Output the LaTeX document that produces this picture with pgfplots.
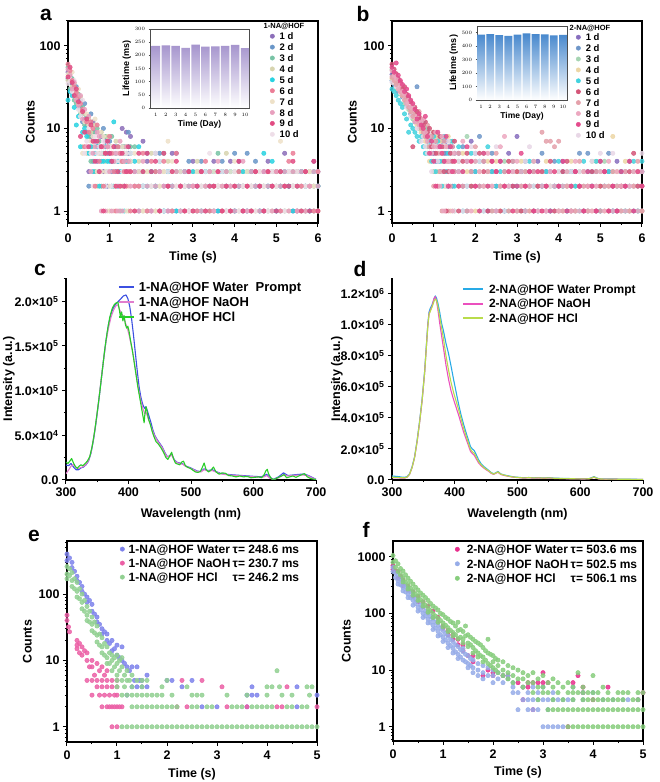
\documentclass[border=0pt]{standalone}
\usepackage{pgfplots}
\usepackage{pgfplotstable}
\pgfplotsset{compat=1.18}
\usepackage{fontspec}
\setmainfont{Liberation Sans}
\newcommand\fs[1]{\fontsize{#1}{#1}\selectfont\bfseries}

\definecolor{ca1}{RGB}{140,110,185}
\definecolor{ca2}{RGB}{105,150,200}
\definecolor{ca3}{RGB}{120,195,165}
\definecolor{ca4}{RGB}{215,212,175}
\definecolor{ca5}{RGB}{40,210,225}
\definecolor{ca6}{RGB}{235,125,150}
\definecolor{ca7}{RGB}{238,225,200}
\definecolor{ca8}{RGB}{232,160,190}
\definecolor{ca9}{RGB}{225,75,130}
\definecolor{ca10}{RGB}{238,222,232}
\definecolor{cb1}{RGB}{135,110,190}
\definecolor{cb2}{RGB}{110,150,200}
\definecolor{cb3}{RGB}{165,212,178}
\definecolor{cb4}{RGB}{236,214,165}
\definecolor{cb5}{RGB}{65,210,222}
\definecolor{cb6}{RGB}{212,85,120}
\definecolor{cb7}{RGB}{228,160,170}
\definecolor{cb8}{RGB}{236,168,192}
\definecolor{cb9}{RGB}{228,75,140}
\definecolor{cb10}{RGB}{232,215,230}
\definecolor{barA}{RGB}{165,148,205}
\definecolor{barB}{RGB}{70,135,205}
\definecolor{cB}{RGB}{60,80,225}
\definecolor{cP}{RGB}{225,125,205}
\definecolor{cG}{RGB}{40,205,40}
\definecolor{dB}{RGB}{40,170,230}
\definecolor{dP}{RGB}{235,80,190}
\definecolor{dG}{RGB}{185,220,75}
\definecolor{eB}{RGB}{125,130,235}
\definecolor{eP}{RGB}{235,95,165}
\definecolor{eG}{RGB}{145,208,145}
\definecolor{fP}{RGB}{232,45,140}
\definecolor{fB}{RGB}{150,172,232}
\definecolor{fG}{RGB}{135,205,125}

% panel a: counts per day, one column per day
\pgfplotstableread{
t d1 d2 d3 d4 d5 d6 d7 d8 d9 d10
0.00 48 40 55 38 22 60 45 52 42 35
0.05 42 36 30 46 28 50 38 44 55 40
0.10 35 30 40 32 25 38 48 30 36 28
0.15 30 26 22 35 18 32 28 36 25 38
0.20 25 32 20 28 11 27 24 22 30 26
0.25 22 18 26 20 14 24 30 19 21 17
0.30 18 22 15 24 6 20 16 25 8 14
0.35 15 12 18 6 9 17 5 13 16 22
0.40 13 20 11 15 10 6 12 17 9 5
0.45 11 9 14 5 8 12 15 6 13 7
0.50 3 2 8 13 5 9 11 14 6 10
0.55 8 15 4 9 6 12 7 3 11 5
0.60 12 4 9 6 3 10 8 5 7 2
0.65 7 9 3 11 5 2 13 6 4 8
0.70 4 6 10 2 6 11 3 9 7 5
0.75 6 3 7 5 2 4 9 8 3 6
0.80 8 5 2 9 4 6 3 1 6 5
0.85 3 10 5 6 4 2 8 6 1 7
0.90 7 2 8 4 6 5 3 1 5 2
0.95 2 5 3 8 4 6 1 6 7 3
1.00 5 7 6 1 4 8 2 3 5 6
1.05 4 3 8 6 2 5 6 1 4 2
1.10 6 4 2 5 12 3 1 4 6 5
1.15 3 6 4 7 5 1 2 5 2 4
1.20 4 2 6 3 4 6 5 1 3 5
1.25 5 4 1 4 3 5 2 7 2 4
1.30 10 6 4 2 3 4 6 1 5 3
1.35 2 5 6 4 1 3 5 4 2 3
1.40 9 3 5 6 4 2 1 6 3 5
1.45 5 9 4 1 6 3 2 4 6 3
1.50 8 4 6 3 5 1 4 2 3 5
1.6 2 3 6 1 4 2 5 3 1 2
1.7 3 1 2 4 6 2 3 1 5 2
1.8 7 2 3 1 2 5 1 4 3 2
1.9 4 5 1 3 2 1 3 2 5 1
2.0 1 3 2 5 3 4 2 1 3 2
2.1 2 5 3 1 2 3 1 2 4 5
2.2 3 5 1 2 4 1 2 3 1 4
2.3 2 1 5 3 1 4 3 2 5 1
2.4 1 3 2 4 3 2 7 1 2 3
2.5 5 2 1 3 2 1 4 2 3 1
2.6 5 1 3 2 1 5 2 3 4 2
2.7 2 3 1 2 1 2 3 1 2 1
2.8 3 2 2 1 3 1 2 3 1 2
2.9 1 4 3 2 2 3 1 2 3 1
3.0 4 2 1 3 3 2 1 2 1 2
3.1 2 1 3 4 2 1 3 2 2 1
3.2 3 4 2 1 1 3 2 1 3 2
3.3 1 2 3 2 3 4 1 2 1 3
3.4 2 3 1 3 2 1 2 3 2 5
3.5 4 1 2 1 3 2 3 1 2 1
3.6 1 2 5 2 1 3 2 4 3 2
3.7 3 4 2 1 3 1 2 2 1 3
3.8 2 1 3 5 2 2 1 3 2 1
3.9 4 2 1 2 3 1 3 2 1 2
4.0 1 5 2 3 1 2 4 1 2 3
4.1 4 2 3 1 2 3 1 2 4 1
4.2 2 1 2 3 3 1 2 4 1 2
4.3 1 5 3 2 1 2 3 1 2 1
4.4 3 2 1 2 3 1 2 3 1 2
4.5 2 4 3 1 2 3 1 2 3 1
4.6 1 2 2 3 1 2 3 1 2 3
4.7 3 1 2 2 5 1 2 3 1 2
4.8 4 2 1 3 2 3 1 2 3 1
4.9 2 3 2 1 4 2 3 1 2 3
5.0 1 2 3 2 1 3 2 3 1 2
5.1 3 1 2 3 2 1 7 2 3 1
5.2 5 2 1 2 3 2 1 3 2 1
5.3 2 3 2 1 2 4 3 1 2 3
5.4 1 2 3 2 1 5 2 3 4 2
5.5 3 1 2 3 2 1 2 1 2 3
5.6 2 3 1 2 3 2 1 3 1 2
5.7 1 2 3 1 2 3 2 1 3 2
5.8 3 1 2 3 1 2 3 2 1 2
5.9 4 2 1 2 3 1 2 3 4 1
6.0 2 3 2 1 2 3 1 2 1 3
}\tabA

% panel b
\pgfplotstableread{
t d1 d2 d3 d4 d5 d6 d7 d8 d9 d10
0.00 45 38 52 40 30 60 42 50 55 36
0.05 40 34 45 36 28 52 38 44 48 42
0.10 36 42 30 38 25 46 34 40 62 32
0.15 32 28 38 30 22 40 36 30 44 35
0.20 30 35 26 32 20 36 28 34 38 27
0.25 26 24 32 25 18 30 25 28 34 30
0.30 24 28 20 26 15 32 22 26 28 23
0.35 21 19 25 22 13 26 24 20 30 18
0.40 19 23 17 20 9 24 18 22 25 20
0.45 17 15 20 16 11 21 16 18 22 14
0.50 15 18 13 17 10 6 14 19 20 16
0.55 14 12 16 13 9 18 15 12 17 14
0.60 12 32 14 11 8 16 12 14 13 10
0.65 11 13 10 12 7 14 16 11 15 12
0.70 10 11 12 9 8 13 10 12 11 7
0.75 9 12 8 10 6 11 9 13 10 8
0.80 8 9 10 7 5 12 8 9 14 6
0.85 7 10 6 8 5 9 11 7 8 5
0.90 6 8 9 4 7 10 6 8 5 9
0.95 8 5 7 9 4 6 8 5 7 3
1.00 5 7 3 6 8 9 2 6 4 7
1.05 7 4 6 8 3 5 7 9 2 6
1.10 4 6 8 3 7 2 5 6 9 4
1.15 6 3 5 7 4 8 3 2 6 5
1.20 3 7 4 5 2 6 1 8 5 3
1.25 5 4 6 2 8 3 7 1 4 6
1.30 7 5 2 6 3 1 4 6 8 2
1.35 2 6 4 8 5 3 1 4 2 7
1.40 4 3 7 1 6 5 2 3 6 4
1.45 6 2 5 3 7 4 6 1 3 5
1.50 3 5 1 4 2 7 3 5 4 1
1.6 5 3 4 2 6 1 5 3 2 4
1.7 2 6 3 5 1 4 2 7 3 1
1.8 4 1 8 3 2 5 1 4 6 2
1.9 7 3 2 4 5 2 3 1 4 6
2.0 3 5 4 1 3 2 6 4 2 5
2.1 2 8 1 3 4 5 2 3 1 4
2.2 4 2 5 2 1 3 4 2 5 1
2.3 1 3 2 4 6 1 3 5 2 3
2.4 3 5 1 2 3 4 1 2 4 2
2.5 2 1 3 4 2 3 5 1 3 6
2.6 4 2 2 1 3 1 2 6 4 2
2.7 1 3 4 2 1 2 3 8 2 1
2.8 5 2 1 3 2 4 1 2 3 2
2.9 2 4 3 1 3 2 4 3 1 3
3.0 8 1 2 3 2 3 1 4 2 1
3.1 3 2 1 4 3 1 2 3 5 2
3.2 1 4 3 2 1 2 3 1 2 4
3.3 2 3 2 1 4 3 1 2 3 6
3.4 3 1 4 2 2 1 3 4 1 2
3.5 4 2 1 3 1 2 2 1 3 1
3.6 2 5 3 1 2 3 9 2 1 3
3.7 1 3 2 4 3 2 7 1 2 1
3.8 3 1 2 2 1 4 7 3 1 2
3.9 2 4 1 3 2 1 6 2 3 1
4.0 1 2 3 1 4 2 7 1 2 3
4.1 4 3 2 1 2 3 1 2 4 1
4.2 2 1 3 2 1 4 2 3 1 2
4.3 3 2 1 4 3 1 2 1 2 3
4.4 1 3 2 1 2 3 1 4 3 1
4.5 2 5 3 2 1 2 4 1 2 3
4.6 3 1 2 3 4 1 2 3 1 2
4.7 1 5 1 2 3 2 1 2 3 1
4.8 2 3 4 1 2 3 2 1 2 4
4.9 3 1 2 4 4 1 3 2 1 2
5.0 1 4 3 2 1 2 1 3 4 5
5.1 2 3 4 1 2 3 2 1 3 2
5.2 3 5 1 2 3 1 2 4 1 2
5.3 1 2 3 8 1 2 3 1 2 5
5.4 4 1 2 3 2 1 2 3 1 2
5.5 2 3 1 2 3 2 1 2 3 1
5.6 3 2 1 4 1 2 3 1 2 3
5.7 1 4 2 1 2 3 1 2 4 2
5.8 2 1 3 2 4 5 2 3 1 2
5.9 3 2 1 3 1 2 4 1 3 2
6.0 1 3 2 1 4 2 1 3 2 5
}\tabB

\pgfplotsset{
  panel/.style={scale only axis, anchor=south west,
    axis line style={line width=1.2pt},
    tick style={line width=1pt, black},
    major tick length=4pt, minor tick length=2.2pt,
    tick align=outside, tick pos=left,
    tick label style={font=\fs{12.5}}, label style={font=\fs{12.5}},
    legend cell align=left},
  dot/.style={only marks, mark=*, color=#1, mark size=2.2pt,
    mark options={draw=none, fill=#1, fill opacity=0.85}},
  inset/.style={scale only axis, anchor=south west, ybar, ymin=0,
    axis background/.style={fill=white},
    axis line style={line width=0.7pt, black!70},
    tick style={line width=0.5pt, black!70},
    major tick length=1.5pt, tick align=outside, tick pos=left,
    tick label style={font=\fs{5}}, xtick={1,...,10},
    xlabel style={font=\fs{8.5}, yshift=3pt}, ylabel style={font=\fs{9}, yshift=-3pt}},
  countleg/.style={legend style={at={#1}, anchor=north west, draw=none, fill=none,
    inner sep=0pt, font=\fs{9.5}, row sep=3.9pt, column sep=5pt,
    nodes={inner sep=0pt, text height=7pt, text depth=0pt, anchor=base west}},
    legend image code/.code={\fill[##1] (2.2pt,3.5pt) circle[radius=2.2pt];}},
}

\begin{document}
\begin{tikzpicture}
\useasboundingbox (0,0) rectangle (660pt,782pt);

% ---------- a ----------
\begin{axis}[panel, at={(68pt,559pt)}, width=250pt, height=202pt,
  ymode=log, xmin=0, xmax=6, ymin=0.716, ymax=200,
  xtick={0,...,6}, xticklabels={0,1,2,3,4,5,6}, minor xtick={0.5,1.5,...,5.5},
  ytick={1,10,100}, yticklabels={1,10,100},
  minor ytick={0.8,0.9,2,3,4,5,6,7,8,9,20,30,40,50,60,70,80,90,200},
  x tick label style={yshift=-3pt}, xlabel shift=2pt, ylabel shift=-2pt,
  xlabel={Time (s)}, ylabel={Counts}, countleg={(0.807,0.943)}]
\addlegendimage{dot=ca1}\addlegendentry{1 d}
\addlegendimage{dot=ca2}\addlegendentry{2 d}
\addlegendimage{dot=ca3}\addlegendentry{3 d}
\addlegendimage{dot=ca4}\addlegendentry{4 d}
\addlegendimage{dot=ca5}\addlegendentry{5 d}
\addlegendimage{dot=ca6}\addlegendentry{6 d}
\addlegendimage{dot=ca7}\addlegendentry{7 d}
\addlegendimage{dot=ca8}\addlegendentry{8 d}
\addlegendimage{dot=ca9}\addlegendentry{9 d}
\addlegendimage{dot=ca10}\addlegendentry{10 d}
\addplot[dot=ca1, forget plot] table[x=t, y=d1] {\tabA};
\addplot[dot=ca2, forget plot] table[x=t, y=d2] {\tabA};
\addplot[dot=ca3, forget plot] table[x=t, y=d3] {\tabA};
\addplot[dot=ca4, forget plot] table[x=t, y=d4] {\tabA};
\addplot[dot=ca5, forget plot] table[x=t, y=d5] {\tabA};
\addplot[dot=ca7, forget plot] table[x=t, y=d7] {\tabA};
\addplot[dot=ca10, forget plot] table[x=t, y=d10] {\tabA};
\addplot[dot=ca6, forget plot] table[x=t, y=d6] {\tabA};
\addplot[dot=ca8, forget plot] table[x=t, y=d8] {\tabA};
\addplot[dot=ca9, forget plot] table[x=t, y=d9] {\tabA};
\end{axis}
\node[font=\fs{7.5}] at (284pt,756pt) {1-NA@HOF};

\begin{axis}[inset, at={(150pt,674pt)}, width=99pt, height=79pt,
  xmin=0.4, xmax=10.4, ymax=300, ytick={0,50,...,300}, bar width=0.86,
  xlabel={Time (Day)}, ylabel={Lifetime (ms)}]
\addplot[draw=none, top color=barA, middle color=barA!55!white, bottom color=white]
  coordinates {(1,236)(2,238)(3,236)(4,228)(5,241)(6,233)(7,234)(8,236)(9,240)(10,227)};
\end{axis}

% ---------- b ----------
\begin{axis}[panel, at={(392pt,559pt)}, width=250pt, height=202pt,
  ymode=log, xmin=0, xmax=6, ymin=0.716, ymax=200,
  xtick={0,...,6}, xticklabels={0,1,2,3,4,5,6}, minor xtick={0.5,1.5,...,5.5},
  ytick={1,10,100}, yticklabels={1,10,100},
  minor ytick={0.8,0.9,2,3,4,5,6,7,8,9,20,30,40,50,60,70,80,90,200},
  x tick label style={yshift=-3pt}, xlabel shift=2pt,
  xlabel={Time (s)}, ylabel={Counts}, countleg={(0.735,0.938)}]
\addlegendimage{dot=cb1}\addlegendentry{1 d}
\addlegendimage{dot=cb2}\addlegendentry{2 d}
\addlegendimage{dot=cb3}\addlegendentry{3 d}
\addlegendimage{dot=cb4}\addlegendentry{4 d}
\addlegendimage{dot=cb5}\addlegendentry{5 d}
\addlegendimage{dot=cb6}\addlegendentry{6 d}
\addlegendimage{dot=cb7}\addlegendentry{7 d}
\addlegendimage{dot=cb8}\addlegendentry{8 d}
\addlegendimage{dot=cb9}\addlegendentry{9 d}
\addlegendimage{dot=cb10}\addlegendentry{10 d}
\addplot[dot=cb1, forget plot] table[x=t, y=d1] {\tabB};
\addplot[dot=cb2, forget plot] table[x=t, y=d2] {\tabB};
\addplot[dot=cb3, forget plot] table[x=t, y=d3] {\tabB};
\addplot[dot=cb4, forget plot] table[x=t, y=d4] {\tabB};
\addplot[dot=cb5, forget plot] table[x=t, y=d5] {\tabB};
\addplot[dot=cb10, forget plot] table[x=t, y=d10] {\tabB};
\addplot[dot=cb7, forget plot] table[x=t, y=d7] {\tabB};
\addplot[dot=cb6, forget plot] table[x=t, y=d6] {\tabB};
\addplot[dot=cb8, forget plot] table[x=t, y=d8] {\tabB};
\addplot[dot=cb9, forget plot] table[x=t, y=d9] {\tabB};
\end{axis}
\node[font=\fs{7.5}] at (590pt,754pt) {2-NA@HOF};

\begin{axis}[inset, at={(477pt,682pt)}, width=90pt, height=74pt,
  xmin=0.55, xmax=10.45, ymax=550, ytick={0,100,...,500}, bar width=0.86,
  xlabel={Time (Day)}, ylabel={Lifetime (ms)}]
\addplot[draw=none, top color=barB, middle color=barB!55!white, bottom color=white]
  coordinates {(1,485)(2,490)(3,483)(4,476)(5,485)(6,495)(7,490)(8,488)(9,480)(10,484)};
\end{axis}

% ---------- c ----------
\begin{axis}[panel, at={(66pt,302pt)}, width=250pt, height=202pt,
  axis x line*=bottom, axis y line*=left, axis line style={line width=1.2pt, -},
  xmin=300, xmax=700, ymin=0, ymax=226000,
  xtick={300,400,500,600,700}, xticklabels={300,400,500,600,700}, minor xtick={350,450,550,650},
  ytick={0,50000,100000,150000,200000},
  yticklabels={0.0,5.0×10\textsuperscript{4},1.0×10\textsuperscript{5},1.5×10\textsuperscript{5},2.0×10\textsuperscript{5}},
  minor ytick={25000,75000,125000,175000,225000},
  scaled y ticks=false, xlabel shift=5pt, ylabel shift=-7pt,
  xlabel={Wavelength (nm)}, ylabel={Intensity (a.u.)},
  legend style={at={(0.208,0.979)}, anchor=north west, draw=none, fill=none,
    inner sep=0pt, font=\fs{13}, row sep=5.6pt, column sep=4pt,
    nodes={inner sep=0pt, text height=9.4pt, text depth=0pt, anchor=base west}},
  legend image code/.code={\draw[#1, line width=1.6pt] (0pt,4.7pt) -- (15pt,4.7pt);}]
\addplot[cB, line width=1.1pt, line join=round] coordinates {
(300,16800)(304,16000)(308,18500)(312,14500)(316,11500)(320,11500)(324,13500)(328,14500)(332,17000)(336,21000)(340,30000)(344,45000)(348,64000)(352,86000)(356,110000)(360,134000)(364,156000)(368,174000)(372,186000)(376,193000)(380,197000)(384,200000)(388,203000)(392,206000)(396,207000)(399,203000)(402,194000)(405,180000)(408,162000)(411,142000)(414,122000)(417,104000)(420,92000)(423,84000)(426,80000)(428,82000)(430,78000)(433,71000)(436,64000)(439,56000)(442,50000)(446,45000)(450,41000)(454,37000)(458,31000)(462,26000)(466,27000)(469,29000)(473,23000)(477,20000)(482,19000)(487,18000)(492,15500)(498,14000)(504,12000)(510,10000)(516,9500)(521,12500)(527,10500)(534,11500)(540,9500)(547,7500)(555,6500)(563,6000)(572,5500)(582,5000)(592,4500)(602,4000)(612,3700)(617,4500)(621,6500)(626,3000)(632,800)(640,3500)(648,8000)(655,5000)(663,5600)(671,6200)(680,6700)(688,5000)(695,2500)(700,800)};
\addlegendentry{1-NA@HOF Water\ \ Prompt}
\addplot[cP, line width=1.1pt, line join=round] coordinates {
(300,7000)(304,11000)(308,15500)(312,17500)(316,14000)(320,13000)(324,14000)(328,15000)(332,17500)(336,21500)(340,31000)(344,46000)(348,65000)(352,87000)(356,111000)(360,134000)(364,155000)(368,170000)(372,182000)(376,190000)(380,195000)(383,196000)(386,190000)(389,186000)(392,183000)(395,176000)(398,170000)(401,162000)(404,152000)(408,138000)(411,124000)(414,110000)(417,98000)(420,88000)(423,80000)(426,74000)(428,76000)(430,72000)(433,66000)(436,60000)(439,54000)(442,49000)(446,44000)(450,40000)(454,36000)(458,30000)(462,26000)(466,26500)(469,28000)(473,22500)(477,19500)(482,18500)(487,17500)(492,15000)(498,13500)(504,11500)(510,9500)(516,9000)(521,11500)(527,10000)(534,10500)(540,9000)(547,7000)(555,6000)(563,5500)(572,5000)(582,4500)(592,4000)(602,3500)(612,3000)(617,3500)(621,5000)(626,2000)(632,500)(640,2500)(648,6000)(655,4500)(663,5000)(671,5500)(680,5500)(688,4500)(695,2000)(700,500)};
\addlegendentry{1-NA@HOF NaOH}
\addplot[cG, line width=1.1pt, line join=round] coordinates {
(300,20000)(303,18500)(306,21000)(309,24000)(312,19000)(315,15000)(318,13000)(321,15500)(324,17000)(327,16000)(330,18000)(334,21000)(338,26000)(342,38000)(346,55000)(350,76000)(354,98000)(358,122000)(362,146000)(366,166000)(370,182000)(374,192000)(377,196000)(380,198000)(383,199000)(385,192000)(387,183000)(389,188000)(391,178000)(393,184000)(395,174000)(397,170000)(399,172000)(401,166000)(403,157000)(406,146000)(409,132000)(412,118000)(415,104000)(418,92000)(421,80000)(423,72000)(425,64000)(426,72000)(428,82000)(430,76000)(432,68000)(435,62000)(438,54000)(441,48000)(444,43000)(448,40000)(452,36000)(456,31000)(460,25000)(463,23000)(466,27000)(469,31000)(472,24000)(475,19000)(478,18000)(482,17000)(485,20000)(488,21000)(491,16000)(495,14000)(499,13000)(503,11000)(507,9000)(511,8500)(515,9500)(518,14000)(521,19000)(524,12000)(528,9000)(532,11000)(536,14500)(540,9000)(545,6500)(550,8000)(555,7500)(560,5000)(566,4500)(572,3500)(578,4500)(584,3500)(590,4000)(596,2500)(602,3000)(608,3500)(613,2500)(617,6000)(620,10500)(622,12000)(624,7000)(628,2000)(632,500)(636,1500)(640,3000)(645,4500)(649,6000)(653,2500)(658,3500)(663,4500)(668,3000)(674,5000)(679,6500)(682,7000)(686,3500)(692,1500)(700,500)};
\addlegendentry{1-NA@HOF HCl}
\end{axis}

% ---------- d ----------
\begin{axis}[panel, at={(392pt,302pt)}, width=251pt, height=202pt,
  axis x line*=bottom, axis y line*=left, axis line style={line width=1.2pt, -},
  xmin=300, xmax=700, ymin=0, ymax=1300000,
  xtick={300,400,500,600,700}, xticklabels={300,400,500,600,700}, minor xtick={350,450,550,650},
  ytick={0,200000,400000,600000,800000,1000000,1200000},
  yticklabels={0.0,2.0×10\textsuperscript{5},4.0×10\textsuperscript{5},6.0×10\textsuperscript{5},8.0×10\textsuperscript{5},1.0×10\textsuperscript{6},1.2×10\textsuperscript{6}},
  minor ytick={100000,300000,500000,700000,900000,1100000},
  scaled y ticks=false, xlabel shift=5pt, ylabel shift=-9pt,
  xlabel={Wavelength (nm)}, ylabel={Intensity (a.u.)},
  legend style={at={(0.279,0.967)}, anchor=north west, draw=none, fill=none,
    inner sep=0pt, font=\fs{12}, row sep=5.9pt, column sep=5pt,
    nodes={inner sep=0pt, text height=8.6pt, text depth=0pt, anchor=base west}},
  legend image code/.code={\draw[#1, line width=1.8pt] (0pt,4.3pt) -- (20pt,4.3pt);}]
\addplot[dB, line width=1.1pt, line join=round] coordinates {
(300,26000)(305,24000)(310,22000)(315,19000)(320,17000)(324,22000)(328,40000)(332,85000)(336,150000)(340,255000)(344,380000)(348,520000)(352,700000)(355,880000)(357,1000000)(359,1080000)(361,1105000)(364,1130000)(367,1165000)(369,1185000)(371,1170000)(373,1140000)(376,1080000)(379,1010000)(382,960000)(386,880000)(390,815000)(394,735000)(398,650000)(402,570000)(406,490000)(410,420000)(414,360000)(418,305000)(422,255000)(425,215000)(428,200000)(431,190000)(434,165000)(438,130000)(442,105000)(446,88000)(450,75000)(454,62000)(458,48000)(462,40000)(466,48000)(469,55000)(473,40000)(478,33000)(484,28000)(490,23000)(496,19000)(502,17000)(510,14000)(518,16000)(526,14000)(534,15000)(542,13000)(550,15000)(558,12000)(566,11000)(576,10000)(586,9000)(596,8500)(606,8000)(614,9000)(619,16000)(622,22000)(625,15000)(630,8000)(640,6500)(650,7000)(660,6000)(670,5500)(680,5000)(690,4500)(700,4300)};
\addlegendentry{2-NA@HOF Water Prompt}
\addplot[dP, line width=1.1pt, line join=round] coordinates {
(300,15000)(305,14000)(310,13500)(315,12500)(320,12000)(324,18000)(328,36000)(332,80000)(336,145000)(340,245000)(344,370000)(348,510000)(352,690000)(355,870000)(357,990000)(359,1070000)(361,1090000)(364,1120000)(367,1170000)(369,1180000)(371,1150000)(373,1100000)(376,1010000)(379,930000)(382,850000)(386,740000)(390,650000)(394,575000)(398,520000)(402,470000)(406,420000)(410,365000)(414,310000)(418,265000)(422,220000)(425,185000)(428,170000)(431,160000)(434,138000)(438,110000)(442,92000)(446,78000)(450,66000)(454,56000)(458,43000)(462,36000)(466,44000)(469,50000)(473,36000)(478,30000)(484,25000)(490,20000)(496,17000)(502,15000)(510,12000)(518,14000)(526,12000)(534,13000)(542,11000)(550,12500)(558,10000)(566,9000)(576,8500)(586,7500)(596,7000)(606,6500)(614,7500)(619,13000)(622,18000)(625,12000)(630,6000)(640,5000)(650,5500)(660,4500)(670,4000)(680,4000)(690,3500)(700,3000)};
\addlegendentry{2-NA@HOF NaOH}
\addplot[dG, line width=1.1pt, line join=round] coordinates {
(300,18000)(305,17000)(310,16000)(315,14500)(320,14000)(324,19000)(328,37000)(332,80000)(336,145000)(340,248000)(344,372000)(348,512000)(352,690000)(355,870000)(357,985000)(359,1065000)(361,1085000)(364,1115000)(367,1150000)(369,1165000)(371,1155000)(373,1120000)(376,1050000)(379,980000)(382,910000)(386,800000)(390,710000)(394,630000)(398,565000)(402,510000)(406,455000)(410,395000)(414,335000)(418,285000)(422,235000)(425,198000)(428,182000)(431,172000)(434,150000)(438,118000)(442,98000)(446,82000)(450,70000)(454,59000)(458,46000)(462,38000)(466,46000)(469,52000)(473,38000)(478,32000)(484,26000)(490,21000)(496,18000)(502,16000)(510,13000)(518,15000)(526,13000)(534,14000)(542,12000)(550,14000)(558,11000)(566,10000)(576,9000)(586,8000)(596,7500)(606,7000)(614,8000)(619,14000)(622,20000)(625,13000)(630,7000)(640,5500)(650,6000)(660,5000)(670,4500)(680,4500)(690,4000)(700,3500)};
\addlegendentry{2-NA@HOF HCl}
\end{axis}

% ---------- e ----------
\begin{axis}[panel, at={(67pt,40pt)}, width=250pt, height=201pt,
  ymode=log, xmin=0, xmax=5, ymin=0.59, ymax=630,
  xtick={0,...,5}, xticklabels={0,1,2,3,4,5}, minor xtick={0.5,1.5,...,4.5},
  ytick={1,10,100}, yticklabels={1,10,100},
  minor ytick={0.6,0.7,0.8,0.9,2,3,4,5,6,7,8,9,20,30,40,50,60,70,80,90,200,300,400,500,600},
  x tick label style={yshift=-1pt}, xlabel shift=2pt,
  xlabel={Time (s)}, ylabel={Counts},
  legend style={at={(0.211,0.982)}, anchor=north west, draw=none, fill=none,
    inner sep=0pt, font=\fs{12}, row sep=5.4pt, column sep=4pt,
    nodes={inner sep=0pt, text height=8.6pt, text depth=0pt, anchor=base west}},
  legend image code/.code={\fill[#1] (2.2pt,4.3pt) circle[radius=2.2pt];}]
\addplot[dot=eB] coordinates {
(0,400)(0,320)(0.05,350)(0.1,300)(0.1,250)(0.15,220)(0.2,185)(0.2,160)(0.25,150)(0.3,130)(0.3,110)(0.35,100)(0.4,90)(0.4,75)(0.45,80)(0.5,70)(0.5,55)(0.55,50)(0.6,45)(0.6,38)(0.65,35)(0.7,30)(0.7,25)(0.75,27)(0.8,25)(0.8,20)(0.85,18)(0.9,20)(0.9,14)(0.95,15)(1,17)(1,12)(1.05,11)(1.1,16)(1.1,10)(1.15,9)(1.2,8)(1.2,3)(1.25,7)(1.3,8)(1.3,4)(1.35,5)(1.4,8)(1.4,4)(1.45,5)(1.5,5)(1.5,4)(1.6,6)(1.6,4)(2,5)(2.1,5)(2.3,4)(2.5,5)(2.7,2)(3,2)(3.6,3)(3.6,2)(3.7,4)(3.7,3)(3.8,3)(4.6,4)(4.6,2)(5,3)};
\addlegendentry{\makebox[104pt][l]{1-NA@HOF Water}τ= 248.6 ms}
\addplot[dot=eP] coordinates {
(0,48)(0,40)(0.03,32)(0.05,27)(0.2,20)(0.2,17)(0.2,15)(0.25,18)(0.25,13)(0.3,16)(0.3,12)(0.35,14)(0.4,13)(0.4,10)(0.4,5)(0.45,8)(0.5,10)(0.5,8)(0.5,5)(0.5,3)(0.55,6)(0.6,9)(0.6,5)(0.6,4)(0.65,7)(0.65,3)(0.7,8)(0.7,5)(0.7,4)(0.7,2)(0.75,6)(0.75,3)(0.8,5)(0.8,4)(0.8,7)(0.8,2)(0.85,3)(0.85,2)(0.9,5)(0.9,4)(0.9,1)(0.9,2)(0.95,3)(0.95,2)(1,4)(1,3)(1,1)(1,5)(1,2)(1.05,2)(1.1,2)(2.2,2)(2.3,5)(2.4,2)(2.7,5)(3.1,4)(3.2,2)(3.6,2)(4.2,2)(4.3,2)(4.4,4)(5,2)};
\addlegendentry{\makebox[104pt][l]{1-NA@HOF NaOH}τ= 230.7 ms}
\addplot[dot=eG] coordinates {
(0,260)(0,200)(0,170)(0.05,240)(0.05,190)(0.1,210)(0.1,160)(0.1,130)(0.15,170)(0.15,120)(0.2,150)(0.2,110)(0.2,90)(0.25,120)(0.25,85)(0.3,100)(0.3,75)(0.3,60)(0.35,80)(0.35,55)(0.4,65)(0.4,48)(0.4,40)(0.45,55)(0.45,38)(0.5,45)(0.5,35)(0.5,28)(0.55,38)(0.55,26)(0.6,33)(0.6,24)(0.6,19)(0.65,25)(0.65,17)(0.7,22)(0.7,16)(0.7,13)(0.75,18)(0.75,12)(0.8,16)(0.8,11)(0.8,9)(0.85,13)(0.85,9)(0.9,12)(0.9,10)(0.9,7)(0.95,11)(0.95,8)(1,12)(1,9)(1,6)(1,4)(1,5)(1.05,10)(1.05,7)(1.1,11)(1.1,8)(1.1,5)(1.15,6)(1.15,4)(1.2,7)(1.2,5)(1.25,5)(1.3,6)(1.3,4)(1.4,5)(1.5,5)(1.5,4)(1.6,5)(1.9,4)(2,5)(2.4,4)(4,4)(4.1,4)(4.2,7)(4.25,4)(4.8,4)(4.9,4)
(1.1,3)(1.2,3)(1.3,3)(1.4,3)(1.5,3)(1.6,3)(1.7,3)(1.8,3)(1.9,3)(2.1,3)(2.5,3)(2.6,3)(2.7,3)(3.2,3)(3.6,3)(4,3)(4.3,3)(4.5,3)(4.85,3)
(1.3,2)(1.4,2)(1.5,2)(1.6,2)(1.7,2)(1.8,2)(1.9,2)(2,2)(2.1,2)(2.2,2)(2.5,2)(2.6,2)(2.8,2)(2.9,2)(3.3,2)(3.4,2)(3.5,2)(3.7,2)(3.8,2)(3.9,2)(4,2)(4.1,2)(4.4,2)(4.5,2)(4.7,2)(4.8,2)
(1.1,1)(1.2,1)(1.3,1)(1.4,1)(1.5,1)(1.6,1)(1.7,1)(1.8,1)(1.9,1)(2,1)(2.1,1)(2.2,1)(2.3,1)(2.4,1)(2.5,1)(2.6,1)(2.7,1)(2.8,1)(2.9,1)(3,1)(3.1,1)(3.2,1)(3.3,1)(3.4,1)(3.5,1)(3.6,1)(3.7,1)(3.8,1)(3.9,1)(4,1)(4.1,1)(4.2,1)(4.3,1)(4.4,1)(4.5,1)(4.6,1)(4.7,1)(4.8,1)(4.9,1)(5,1)};
\addlegendentry{\makebox[104pt][l]{1-NA@HOF HCl}τ= 246.2 ms}
\end{axis}

% ---------- f ----------
\begin{axis}[panel, at={(393pt,41pt)}, width=250pt, height=200pt,
  ymode=log, xmin=0, xmax=5, ymin=0.56, ymax=1900,
  xtick={0,...,5}, xticklabels={0,1,2,3,4,5}, minor xtick={0.5,1.5,...,4.5},
  ytick={1,10,100,1000}, yticklabels={1,10,100,1000},
  minor ytick={0.6,0.7,0.8,0.9,2,3,4,5,6,7,8,9,20,30,40,50,60,70,80,90,200,300,400,500,600,700,800,900},
  x tick label style={yshift=-1pt}, xlabel shift=1pt,
  xlabel={Time (s)}, ylabel={Counts},
  legend style={at={(0.247,0.981)}, anchor=north west, draw=none, fill=none,
    inner sep=0pt, font=\fs{12}, row sep=5.9pt, column sep=7pt,
    nodes={inner sep=0pt, text height=8.6pt, text depth=0pt, anchor=base west}},
  legend image code/.code={\fill[#1] (2.2pt,4.3pt) circle[radius=2.2pt];}]
\addplot[dot=fP] coordinates {
(0,700)(0,600)(0.05,560)(0.1,550)(0.1,420)(0.15,450)(0.2,390)(0.2,310)(0.3,300)(0.3,260)(0.4,240)(0.4,200)(0.5,200)(0.5,160)(0.6,160)(0.6,130)(0.7,135)(0.7,105)(0.8,110)(0.8,85)(0.9,85)(0.9,70)(1,60)(1,55)(1.1,50)(1.1,42)(1.2,42)(1.2,35)(1.3,35)(1.3,28)(1.4,28)(1.4,22)(1.5,18)(1.6,18)(1.6,14)(1.8,8)(1.9,10)(2,8)(2,9)(2.2,8)(2.3,8)(2.5,6)(2.6,5)(2.6,3)(2.7,6)(2.7,5)(2.8,6)(2.8,2)(2.9,6)(3,9)(3,6)(3.1,6)(3.5,1)(3.6,6)(3.7,8)(3.8,5)(3.8,4)(4,3)(4.3,5)(4.9,3)(5,4)};
\addlegendentry{\makebox[104pt][l]{2-NA@HOF Water}τ= 503.6 ms}
\addplot[dot=fB] coordinates {
(0,650)(0,550)(0.05,520)(0.05,430)(0.1,470)(0.1,380)(0.1,330)(0.15,400)(0.15,320)(0.2,350)(0.2,290)(0.2,250)(0.25,300)(0.25,240)(0.3,270)(0.3,220)(0.3,190)(0.35,240)(0.35,190)(0.4,210)(0.4,170)(0.4,140)(0.45,180)(0.45,150)(0.5,165)(0.5,130)(0.5,110)(0.55,140)(0.55,115)(0.6,130)(0.6,100)(0.6,85)(0.65,110)(0.65,90)(0.7,100)(0.7,80)(0.7,68)(0.75,88)(0.75,70)(0.8,80)(0.8,62)(0.8,52)(0.85,70)(0.85,55)(0.9,62)(0.9,48)(0.9,40)(0.95,55)(0.95,42)(1,50)(1,38)(1,32)(1.05,44)(1.05,34)(1.1,40)(1.1,30)(1.1,25)(1.15,35)(1.15,27)(1.2,32)(1.2,24)(1.2,20)(1.25,28)(1.25,21)(1.3,26)(1.3,19)(1.3,16)(1.35,23)(1.35,17)(1.4,21)(1.4,15)(1.4,24)(1.45,19)(1.45,14)(1.5,18)(1.5,13)(1.5,11)(1.55,16)(1.55,12)(1.6,15)(1.6,11)(1.6,9)(1.7,13)(1.7,10)(1.7,8)(1.8,12)(1.8,9)(1.8,7)(1.9,11)(1.9,8)(2,10)(2,8)(2,6)(2.1,9)(2.1,7)(2.2,8)(2.2,6)(2.3,7)(2.3,8)(2.4,5)(2.4,6)(2.4,4)(2.5,4)(2.5,2)(2.6,5)(2.6,3)(2.7,4)(2.7,3)(2.7,2)(2.8,5)(2.8,3)(2.8,2)(2.9,4)(2.9,3)(2.9,2)(3,5)(3,3)(3,1)(3.1,3)(3.1,2)(3.1,1)(3.2,4)(3.2,3)(3.2,1)(3.3,3)(3.3,1)(3.4,3)(3.4,1)(3.5,3)(3.6,5)(3.6,3)(3.8,4)(3.8,3)(4,4)(4.2,3)(4.4,3)(4.6,3)(4.7,3)(4.9,3)};
\addlegendentry{\makebox[104pt][l]{2-NA@HOF NaOH}τ= 502.5 ms}
\addplot[dot=fG] coordinates {
(0,1050)(0,800)(0.05,850)(0.05,650)(0.1,750)(0.1,550)(0.15,620)(0.15,480)(0.2,560)(0.2,420)(0.2,360)(0.25,480)(0.25,360)(0.3,420)(0.3,320)(0.3,270)(0.35,370)(0.35,280)(0.4,330)(0.4,250)(0.4,210)(0.45,290)(0.45,220)(0.5,260)(0.5,200)(0.5,170)(0.55,230)(0.55,175)(0.6,210)(0.6,160)(0.6,135)(0.65,190)(0.65,140)(0.7,170)(0.7,125)(0.7,105)(0.75,150)(0.75,112)(0.8,135)(0.8,100)(0.8,85)(0.85,125)(0.85,90)(0.9,115)(0.9,82)(0.9,70)(0.95,100)(0.95,75)(1,95)(1,68)(1,58)(1.05,85)(1.05,62)(1.1,80)(1.1,56)(1.1,48)(1.15,72)(1.15,50)(1.2,68)(1.2,46)(1.2,40)(1.25,60)(1.25,42)(1.3,70)(1.3,50)(1.3,36)(1.35,52)(1.35,38)(1.4,48)(1.4,35)(1.4,30)(1.45,60)(1.45,40)(1.5,42)(1.5,30)(1.5,26)(1.55,38)(1.55,28)(1.6,35)(1.6,25)(1.6,20)(1.65,32)(1.65,22)(1.7,30)(1.7,20)(1.7,17)(1.75,28)(1.75,18)(1.8,25)(1.8,17)(1.8,14)(1.85,22)(1.85,15)(1.9,35)(1.9,20)(1.9,13)(1.95,19)(1.95,12)(2,18)(2,14)(2,11)(2.05,16)(2.05,10)(2.1,15)(2.1,12)(2.1,9)(2.2,14)(2.2,10)(2.2,8)(2.3,12)(2.3,9)(2.3,7)(2.4,11)(2.4,8)(2.4,6)(2.5,10)(2.5,7)(2.6,9)(2.6,7)(2.6,5)(2.7,8)(2.7,6)(2.8,9)(2.8,6)(2.8,4)(2.9,7)(2.9,5)(2.9,3)(3,8)(3,5)(3,4)(3.1,6)(3.1,4)(3.1,2)(3.2,7)(3.2,5)(3.2,3)(3.2,2)(3.3,6)(3.3,4)(3.3,2)(3.4,5)(3.4,3)(3.4,2)(3.5,6)(3.5,4)(3.5,2)(3.5,1)(3.6,5)(3.6,4)(3.6,3)(3.6,2)(3.6,1)(3.7,9)(3.7,4)(3.7,2)(3.7,1)(3.8,5)(3.8,4)(3.8,3)(3.8,2)(3.8,1)(3.9,4)(3.9,3)(3.9,2)(3.9,1)(4,8)(4,4)(4,3)(4,2)(4,1)(4.1,4)(4.1,3)(4.1,2)(4.1,1)(4.2,5)(4.2,3)(4.2,2)(4.2,1)(4.3,4)(4.3,3)(4.3,2)(4.3,1)(4.4,3)(4.4,2)(4.4,1)(4.5,4)(4.5,3)(4.5,2)(4.5,1)(4.6,4)(4.6,3)(4.6,2)(4.6,1)(4.7,4)(4.7,2)(4.7,1)(4.8,3)(4.8,2)(4.8,1)(4.9,4)(4.9,3)(4.9,2)(4.9,1)(5,4)(5,2)(5,1)};
\addlegendentry{\makebox[104pt][l]{2-NA@HOF HCl}τ= 506.1 ms}
\end{axis}

% panel letters
\node[font=\fs{21}] at (46pt,767pt) {a};
\node[font=\fs{21}] at (363pt,768pt) {b};
\node[font=\fs{21}] at (40pt,512pt) {c};
\node[font=\fs{21}] at (360pt,513pt) {d};
\node[font=\fs{21}] at (34pt,246pt) {e};
\node[font=\fs{21}] at (366pt,252pt) {f};
\end{tikzpicture}
\end{document}
